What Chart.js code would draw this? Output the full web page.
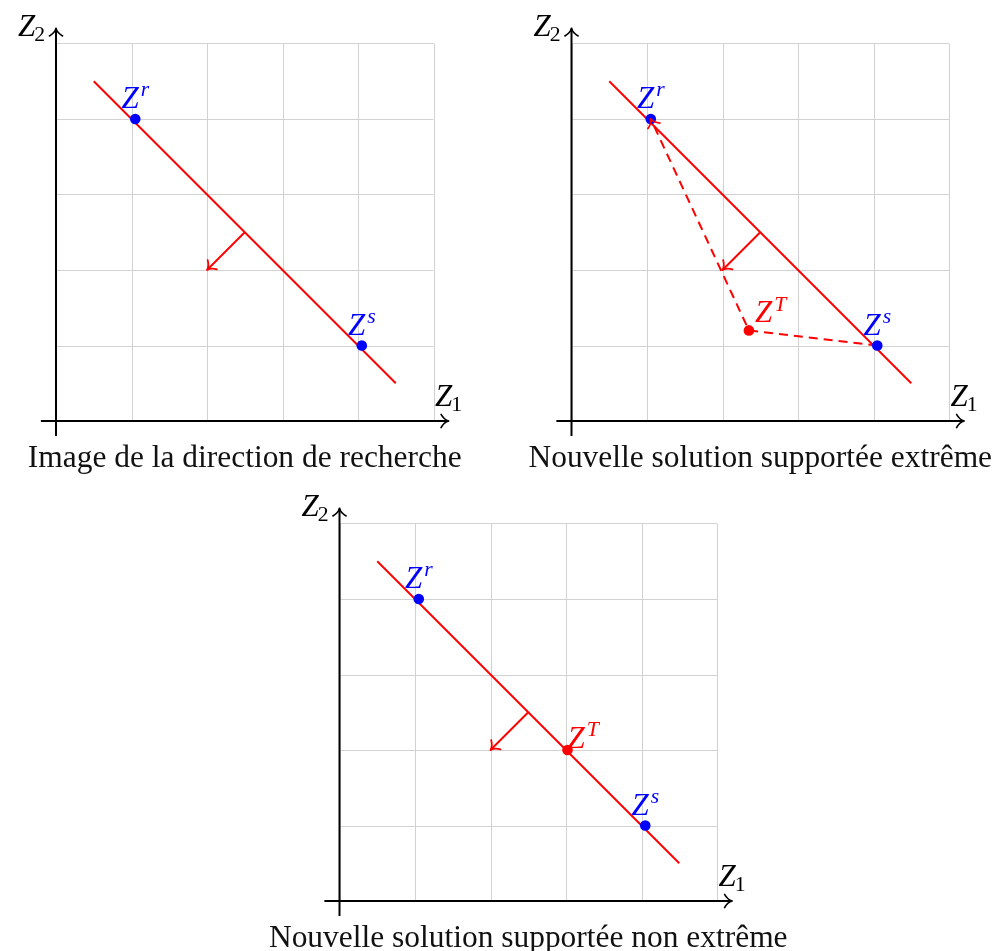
<!DOCTYPE html>
<html>
<head>
<meta charset="utf-8">
<script src="https://cdn.jsdelivr.net/npm/chart.js@4/dist/chart.umd.min.js"></script>
<style>
  html, body { margin: 0; padding: 0; background: #fff; }
  #page { position: relative; width: 994px; height: 951px; overflow: hidden; }
  #page canvas { position: absolute; }
</style>
</head>
<body>
<div id="page"></div>
<script>
// values (grid units)
const gridTicks = [0, 1, 2, 3, 4, 5];
const axisRange = [-0.2, 5.2];
const xAxisLabel = ['Z', '1'];
const yAxisLabel = ['Z', '2'];
const zrPoint = [1.05, 4];
const zsPoint = [4.05, 1];
const ztExtreme = [2.35, 1.2];
const ztNonExtreme = [3.02, 2];
const hyperplaneX = [0.5, 4.5];
const hyperplaneY = [4.5, 0.5];
const normalX = [2.5, 2];
const normalY = [2.5, 2];
const captions = [
  'Image de la direction de recherche',
  'Nouvelle solution supportée extrême',
  'Nouvelle solution supportée non extrême'
];

const RED = '#ff0000';
const BLUE = '#0000ff';
const U = 75.5;            // px per grid unit
const MATH = 31;           // math font size
const SERIF = '"Liberation Serif", "DejaVu Serif", serif';
const CAPTION_W = 434;     // width of first caption in the reference

const pt = p => ({ x: p[0], y: p[1] });

function chevron(ctx, x0, y0, x1, y1, color, width) {
  const a = Math.atan2(y1 - y0, x1 - x0);
  const len = 10, spread = 0.72;
  ctx.save();
  ctx.strokeStyle = color;
  ctx.lineWidth = width;
  ctx.lineCap = 'round';
  ctx.setLineDash([]);
  ctx.beginPath();
  [-1, 1].forEach(s => {
    const ex = x1 - len * Math.cos(a + s * spread);
    const ey = y1 - len * Math.sin(a + s * spread);
    const cx = x1 - len * 0.45 * Math.cos(a + s * spread * 0.35);
    const cy = y1 - len * 0.45 * Math.sin(a + s * spread * 0.35);
    ctx.moveTo(ex, ey);
    ctx.quadraticCurveTo(cx, cy, x1, y1);
  });
  ctx.stroke();
  ctx.restore();
}

// Z with a superscript (italic) or a subscript (upright)
function mathText(ctx, base, sup, sub, x, baseline, align, color) {
  const small = MATH * 0.7;
  ctx.font = `italic ${MATH}px ${SERIF}`;
  const wb = ctx.measureText(base).width;
  ctx.font = sup ? `italic ${small}px ${SERIF}` : `${small}px ${SERIF}`;
  const ws = ctx.measureText(sup || sub).width;
  const gap = sup ? 2 : -1;
  const total = wb + gap + ws;
  let left = x;
  if (align === 'center') left = x - total / 2;
  if (align === 'right') left = x - total;
  ctx.fillStyle = color;
  ctx.textAlign = 'left';
  ctx.textBaseline = 'alphabetic';
  ctx.font = `italic ${MATH}px ${SERIF}`;
  ctx.fillText(base, left, baseline);
  if (sup) {
    ctx.font = `italic ${small}px ${SERIF}`;
    ctx.fillText(sup, left + wb + gap, baseline - MATH * 0.38);
  } else {
    ctx.font = `${small}px ${SERIF}`;
    ctx.fillText(sub, left + wb + gap, baseline + MATH * 0.15);
  }
}

const tikzPlugin = {
  id: 'tikz',
  beforeDatasetsDraw(chart) {
    const { ctx, scales: { x, y } } = chart;
    const px = v => x.getPixelForValue(v);
    const py = v => y.getPixelForValue(v);
    const g0 = gridTicks[0], g1 = gridTicks[gridTicks.length - 1];
    ctx.save();
    ctx.strokeStyle = '#d2d2d2';
    ctx.lineWidth = 1;
    ctx.beginPath();
    gridTicks.forEach(t => {
      const gx = Math.round(px(t)) + 0.5, gy = Math.round(py(t)) + 0.5;
      ctx.moveTo(gx, py(g0)); ctx.lineTo(gx, py(g1));
      ctx.moveTo(px(g0), gy); ctx.lineTo(px(g1), gy);
    });
    ctx.stroke();

    // axes
    ctx.strokeStyle = '#000';
    ctx.lineWidth = 2;
    ctx.beginPath();
    ctx.moveTo(px(axisRange[0]), py(0)); ctx.lineTo(px(axisRange[1]), py(0));
    ctx.moveTo(px(0), py(axisRange[0])); ctx.lineTo(px(0), py(axisRange[1]));
    ctx.stroke();
    ctx.restore();
    chevron(ctx, px(0), py(0), px(axisRange[1]), py(0), '#000', 1.7);
    chevron(ctx, px(0), py(0), px(0), py(axisRange[1]), '#000', 1.7);

    mathText(ctx, xAxisLabel[0], null, xAxisLabel[1], px(axisRange[1]), py(0) - 15, 'center', '#000');
    mathText(ctx, yAxisLabel[0], null, yAxisLabel[1], px(0) - 11, py(axisRange[1]) + 8, 'right', '#000');
  },
  afterDatasetsDraw(chart, args, opts) {
    const { ctx, scales: { x, y } } = chart;
    chart.data.datasets.forEach((ds, i) => {
      if (!ds.arrowHead) return;
      const els = chart.getDatasetMeta(i).data;
      const a = els[els.length - 2], b = els[els.length - 1];
      chevron(ctx, a.x, a.y, b.x, b.y, ds.borderColor, 1.8);
    });
    opts.labels.forEach(l => {
      const lx = x.getPixelForValue(l.at[0]), ly = y.getPixelForValue(l.at[1]);
      if (l.mode === 'above') {
        mathText(ctx, 'Z', l.sup, null, lx, ly - 11, 'center', l.color);
      } else {
        mathText(ctx, 'Z', l.sup, null, lx + l.dx, ly + l.dy, 'left', l.color);
      }
    });
  },
  afterDraw(chart, args, opts) {
    const { ctx, scales: { x, y } } = chart;
    ctx.save();
    ctx.font = `100px ${SERIF}`;
    const size = 100 * CAPTION_W / ctx.measureText(captions[0]).width;
    ctx.font = `${size}px ${SERIF}`;
    ctx.fillStyle = '#111';
    ctx.textAlign = 'center';
    ctx.textBaseline = 'alphabetic';
    ctx.fillText(opts.caption, x.getPixelForValue(2.5), y.getPixelForValue(0) + 46);
    ctx.restore();
  }
};

const panels = [
  { rect: [0, 0, 497, 480], origin: [56, 421], zt: null, ztLabel: null },
  { rect: [497, 0, 497, 480], origin: [571.5, 421], zt: ztExtreme, ztLabel: { dx: 6, dy: -8 } },
  { rect: [190, 480, 620, 471], origin: [339.5, 901], zt: ztNonExtreme, ztLabel: { dx: 0, dy: -2 } }
];

const page = document.getElementById('page');

panels.forEach((p, idx) => {
  const [left, top, w, h] = p.rect;
  const [ox, oy] = p.origin;
  const canvas = document.createElement('canvas');
  canvas.width = w; canvas.height = h;
  canvas.style.left = left + 'px'; canvas.style.top = top + 'px';
  canvas.style.width = w + 'px'; canvas.style.height = h + 'px';
  page.appendChild(canvas);

  const pts = [pt(zrPoint), pt(zsPoint)];
  const colors = [BLUE, BLUE];
  const labels = [
    { sup: 'r', at: zrPoint, color: BLUE, mode: 'above' },
    { sup: 's', at: zsPoint, color: BLUE, mode: 'above' }
  ];
  const datasets = [
    {
      type: 'line',
      data: hyperplaneX.map((v, i) => ({ x: v, y: hyperplaneY[i] })),
      borderColor: RED, borderWidth: 2, pointRadius: 0, fill: false, order: 3
    },
    {
      type: 'line',
      data: normalX.map((v, i) => ({ x: v, y: normalY[i] })),
      borderColor: RED, borderWidth: 2, pointRadius: 0, fill: false, order: 3,
      arrowHead: true
    }
  ];
  if (p.zt) {
    pts.push(pt(p.zt));
    colors.push(RED);
    labels.push({ sup: 'T', at: p.zt, color: RED, mode: 'right', dx: p.ztLabel.dx, dy: p.ztLabel.dy });
    if (idx === 1) {
      datasets.push({
        type: 'line',
        data: [pt(zsPoint), pt(p.zt), pt(zrPoint)],
        borderColor: RED, borderWidth: 2, borderDash: [9, 6],
        pointRadius: 0, fill: false, order: 2, arrowHead: true
      });
    }
  }
  datasets.push({
    type: 'scatter',
    data: pts,
    pointBackgroundColor: colors,
    pointBorderWidth: 0,
    pointRadius: 5.3,
    order: 0
  });

  new Chart(canvas, {
    type: 'scatter',
    data: { datasets },
    options: {
      responsive: false,
      animation: false,
      events: [],
      devicePixelRatio: 1,
      layout: { padding: 0, autoPadding: false },
      plugins: {
        legend: { display: false },
        tooltip: { enabled: false },
        tikz: { labels, caption: captions[idx] }
      },
      scales: {
        x: { type: 'linear', display: false, min: (left - ox) / U, max: (left + w - ox) / U },
        y: { type: 'linear', display: false, min: (oy - (top + h)) / U, max: (oy - top) / U }
      }
    },
    plugins: [tikzPlugin]
  });
});
</script>
</body>
</html>
